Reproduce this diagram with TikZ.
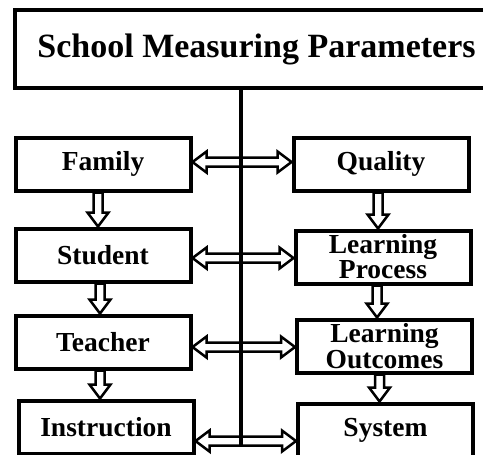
\documentclass[tikz,border=0pt]{standalone}
\usepackage{fontspec}
\setmainfont{Liberation Serif}
\usetikzlibrary{positioning,calc}
\tikzstyle{heading} = [rectangle, draw, line width=4pt, minimum width=483pt,
    minimum height=78pt, font=\fontsize{34}{38}\selectfont\bfseries]
\tikzstyle{block} = [rectangle, draw, line width=4pt, text width=172pt, text centered,
    minimum width=175pt, minimum height=53pt, inner sep=0pt,
    font=\fontsize{27.5}{23.5}\selectfont\bfseries]
% outlined block arrows, one head or two
\tikzstyle{hollow} = [draw, fill=white, line width=2.5pt, line join=miter, to path={
    let \p1=($(\tikztotarget)!14pt!(\tikztostart)$) in
    ($(\tikztostart)!4.5pt!90:(\tikztotarget)$) -- ($(\p1)!4.5pt!-90:(\tikztostart)$)
    -- ($(\p1)!10.5pt!-90:(\tikztostart)$) -- (\tikztotarget)
    -- ($(\p1)!10.5pt!90:(\tikztostart)$) -- ($(\p1)!4.5pt!90:(\tikztostart)$)
    -- ($(\tikztostart)!4.5pt!-90:(\tikztotarget)$) -- cycle}]
\tikzstyle{hollowboth} = [draw, fill=white, line width=2.5pt, line join=miter, to path={
    let \p1=($(\tikztostart)!14pt!(\tikztotarget)$),
        \p2=($(\tikztotarget)!14pt!(\tikztostart)$) in
    (\tikztostart) -- ($(\p1)!10.5pt!90:(\tikztotarget)$) -- ($(\p1)!4.5pt!90:(\tikztotarget)$)
    -- ($(\p2)!4.5pt!-90:(\tikztostart)$) -- ($(\p2)!10.5pt!-90:(\tikztostart)$)
    -- (\tikztotarget)
    -- ($(\p2)!10.5pt!90:(\tikztostart)$) -- ($(\p2)!4.5pt!90:(\tikztostart)$)
    -- ($(\p1)!4.5pt!-90:(\tikztotarget)$) -- ($(\p1)!10.5pt!-90:(\tikztotarget)$)
    -- cycle}]

\begin{document}
\begin{tikzpicture}[x=1pt, y=-1pt, node distance=90pt]
  \useasboundingbox (0,0) rectangle (483,455);
  \node [heading] (title) at (256.5,49) {School Measuring Parameters};
  \node [block] (family) at (103,164) {Family};
  \node [block, below of=family, node distance=91pt] (student) {Student};
  \node [block, below of=student, node distance=87pt] (teacher) {Teacher};
  \node [block, below of=teacher, node distance=85pt, xshift=3pt] (instruction) {Instruction};
  \node [block, right of=family, node distance=278pt] (quality) {Quality};
  \node [block, below of=quality, node distance=93pt, xshift=2pt] (process) {Learning\\Process};
  \node [block, below of=process, node distance=89pt, xshift=1.5pt] (outcomes) {Learning\\Outcomes};
  \node [block, below of=outcomes, node distance=84pt, xshift=1pt] (system) {System};
  \coordinate (spine) at (241,446);
  % downward links in each column
  \path [hollow] ([xshift=-5pt]family.south) to ([xshift=-5pt]family.south |- student.north);
  \path [hollow] ([xshift=-3pt]student.south) to ([xshift=-3pt]student.south |- teacher.north);
  \path [hollow] ([xshift=-3pt]teacher.south) to ([xshift=-3pt]teacher.south |- instruction.north);
  \path [hollow] ([xshift=-3pt]quality.south) to ([xshift=-3pt]quality.south |- process.north);
  \path [hollow] ([xshift=-6pt]process.south) to ([xshift=-6pt]process.south |- outcomes.north);
  \path [hollow] ([xshift=-5pt]outcomes.south) to ([xshift=-5pt]outcomes.south |- system.north);
  % links across the spine
  \path [hollowboth] ([yshift=2pt]family.east) to ([yshift=2pt]family.east -| quality.west);
  \path [hollowboth] ([yshift=-3pt]student.east) to ([yshift=-3pt]student.east -| process.west);
  \path [hollowboth] ([yshift=-5pt]teacher.east) to ([yshift=-5pt]teacher.east -| outcomes.west);
  \path [hollowboth] ([yshift=-14pt]instruction.east) to ([yshift=-14pt]instruction.east -| system.west);
  \draw [line width=3.5pt] (title.south -| spine) -- (spine);
\end{tikzpicture}
\end{document}
